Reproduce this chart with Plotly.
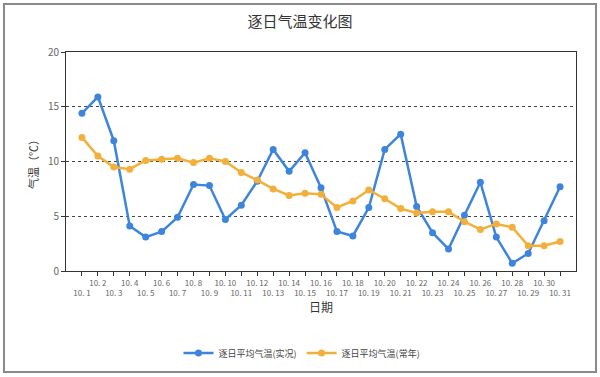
import plotly.graph_objects as go

days = list(range(1, 32))
tick_labels = [f"10. {d}" for d in days]
actual = [14.4, 15.9, 11.9, 4.1, 3.1, 3.6, 4.9, 7.9, 7.8, 4.7, 6.0, 8.2, 11.1, 9.1, 10.8, 7.6,
          3.6, 3.2, 5.8, 11.1, 12.5, 5.9, 3.5, 2.0, 5.1, 8.1, 3.1, 0.7, 1.6, 4.6, 7.7]
normal = [12.2, 10.5, 9.5, 9.3, 10.1, 10.2, 10.3, 9.9, 10.3, 10.0, 9.0, 8.3, 7.5, 6.9, 7.1, 7.0,
          5.8, 6.4, 7.4, 6.6, 5.7, 5.3, 5.4, 5.4, 4.5, 3.8, 4.3, 4.0, 2.3, 2.3, 2.7]
series_names = ["逐日平均气温(实况)", "逐日平均气温(常年)"]
colors = ["#3d85dc", "#f2b03a"]

# staggered tick labels: odd days on second line
ticktext = [lab if d % 2 == 0 else "<br>" + lab for d, lab in zip(days, tick_labels)]

font_family = "Noto Sans CJK SC, Noto Sans, sans-serif"

fig = go.Figure()
for name, vals, col in zip(series_names, [actual, normal], colors):
    fig.add_trace(go.Scatter(
        x=days, y=vals, name=name, mode="lines+markers",
        line=dict(color=col, width=2.5),
        marker=dict(color=col, size=7),
    ))

L, R, T, B = 66, 24, 52, 106
pw = 600 - L - R
ph = 377 - T - B

def px2paper_x(px):
    return (px - L) / pw

def py2paper_y(py):
    return (377 - B - py) / ph

fig.update_layout(
    width=600, height=377,
    margin=dict(l=L, r=R, t=T, b=B, autoexpand=False),
    paper_bgcolor="white", plot_bgcolor="white",
    font=dict(family=font_family, color="#444"),
    title=dict(text="逐日气温变化图", x=0.5, xanchor="center", y=1 - 22 / 377, yanchor="middle",
               font=dict(size=15, color="#333", family=font_family)),
    showlegend=True,
    legend=dict(orientation="h", x=px2paper_x(302), xanchor="center", y=py2paper_y(353), yanchor="middle",
                font=dict(size=9, color="#444"), itemwidth=30, bgcolor="rgba(0,0,0,0)"),
    xaxis=dict(
        range=[0, 32], tickmode="array", tickvals=days, ticktext=ticktext, tickangle=0,
        automargin=False,
        tickfont=dict(size=8, color="#666"), ticks="outside", ticklen=4, tickcolor="#333",
        showline=True, linecolor="#333", linewidth=1, mirror=True, showgrid=False, zeroline=False,
        title=dict(text="日期", font=dict(size=12, color="#333"), standoff=6),
    ),
    yaxis=dict(
        range=[0, 20], tickvals=[0, 5, 10, 15, 20], ticks="outside", ticklen=4, tickcolor="#333",
        automargin=False,
        tickfont=dict(size=10, color="#666"),
        showline=True, linecolor="#333", linewidth=1, mirror=True,
        showgrid=True, gridcolor="#444", griddash="dot", gridwidth=1, zeroline=False,
        title=dict(text="气温（℃）", font=dict(size=11, color="#333"), standoff=7),
    ),
    shapes=[dict(type="rect", xref="paper", yref="paper",
                 x0=px2paper_x(4), x1=px2paper_x(596), y0=py2paper_y(372), y1=py2paper_y(4),
                 line=dict(color="#8a8a8a", width=2), layer="below")],
)

fig.write_html("out.html", config={"displayModeBar": False},
               post_script="document.body.style.margin='0';")
